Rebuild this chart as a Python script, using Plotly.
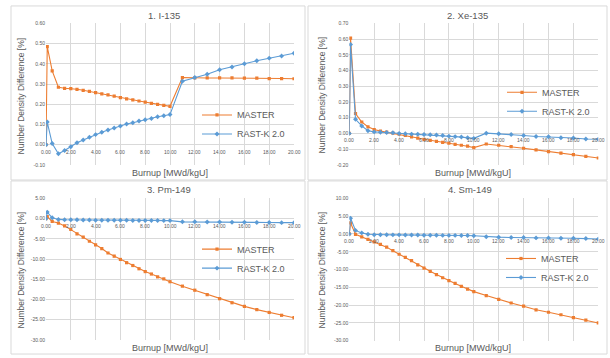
import plotly.graph_objects as go

# ---------------- data ----------------
burnup = [0.0, 0.1, 0.5, 1.0, 1.5, 2.0, 2.5, 3.0, 3.5, 4.0, 4.5, 5.0, 5.5, 6.0, 6.5, 7.0,
          7.5, 8.0, 8.5, 9.0, 9.5, 10.0, 11, 12, 13, 14, 15, 16, 17, 18, 19, 20]

series_names = ["MASTER", "RAST-K 2.0"]
panel_titles = ["1. I-135", "2. Xe-135", "3. Pm-149", "4. Sm-149"]
x_title = "Burnup [MWd/kgU]"
y_title = "Number Density Difference [%]"

x_tick_labels = ["0.00", "2.00", "4.00", "6.00", "8.00", "10.00", "12.00", "14.00",
                 "16.00", "18.00", "20.00"]

i135_master = [0.0, 0.485, 0.365, 0.284, 0.279, 0.277, 0.274, 0.269, 0.264, 0.258, 0.251,
               0.246, 0.240, 0.233, 0.227, 0.222, 0.216, 0.211, 0.204, 0.199, 0.194, 0.190,
               0.332, 0.330, 0.330, 0.330, 0.330, 0.329, 0.329, 0.327, 0.327, 0.326]
i135_rastk = [0.0, 0.112, 0.006, -0.045, -0.029, -0.010, 0.010, 0.023, 0.037, 0.050, 0.062,
              0.073, 0.083, 0.092, 0.102, 0.109, 0.117, 0.123, 0.130, 0.138, 0.143, 0.149,
              0.314, 0.332, 0.348, 0.371, 0.384, 0.400, 0.415, 0.428, 0.439, 0.452]
i135_yticks = ["-0.10", "0.00", "0.10", "0.20", "0.30", "0.40", "0.50", "0.60"]

xe135_master = [0.0, 0.606, 0.127, 0.073, 0.042, 0.025, 0.015, 0.008, 0.002, -0.004, -0.013,
                -0.021, -0.029, -0.037, -0.044, -0.050, -0.056, -0.062, -0.069, -0.075, -0.081,
                -0.090, -0.067, -0.075, -0.083, -0.094, -0.104, -0.115, -0.125, -0.135, -0.146,
                -0.156]
xe135_rastk = [0.0, 0.565, 0.090, 0.048, 0.017, 0.010, 0.008, 0.006, 0.004, 0.000, -0.002,
               -0.004, -0.005, -0.006, -0.008, -0.010, -0.013, -0.017, -0.020, -0.023, -0.027,
               -0.031, 0.002, -0.002, -0.006, -0.013, -0.019, -0.021, -0.027, -0.029, -0.035,
               -0.037]
xe135_yticks = ["-0.20", "-0.10", "0.00", "0.10", "0.20", "0.30", "0.40", "0.50", "0.60", "0.70"]

pm149_master = [0.0, 0.5, -0.7, -1.1, -1.8, -2.7, -3.8, -4.6, -5.6, -6.5, -7.4, -8.5, -9.3,
                -10.1, -10.9, -11.6, -12.4, -13.1, -13.7, -14.4, -14.9, -15.6, -16.7, -17.7,
                -18.8, -19.8, -20.8, -21.7, -22.5, -23.2, -23.9, -24.5]
pm149_rastk = [0.0, 1.6, 0.2, -0.2, -0.3, -0.3, -0.3, -0.35, -0.35, -0.4, -0.4, -0.4, -0.4,
               -0.4, -0.4, -0.45, -0.45, -0.45, -0.45, -0.45, -0.5, -0.5, -0.8, -0.8, -0.85,
               -0.85, -0.9, -0.9, -0.95, -0.95, -1.0, -1.0]
pm149_yticks = ["-30.00", "-25.00", "-20.00", "-15.00", "-10.00", "-5.00", "0.00", "5.00"]

sm149_master = [0.0, 3.1, -0.1, -0.8, -1.5, -2.2, -2.9, -3.7, -4.7, -5.7, -6.6, -7.5, -8.7,
                -9.6, -10.5, -11.4, -12.3, -13.1, -13.9, -14.7, -15.5, -16.2, -17.3, -18.4,
                -19.4, -20.3, -21.3, -22.0, -22.7, -23.5, -24.2, -25.0]
sm149_rastk = [0.0, 4.4, 1.0, 0.3, -0.1, -0.2, -0.2, -0.2, -0.25, -0.25, -0.3, -0.3, -0.3,
               -0.35, -0.35, -0.35, -0.4, -0.4, -0.4, -0.45, -0.45, -0.5, -0.8, -0.9, -1.0,
               -1.0, -1.1, -1.1, -1.2, -1.2, -1.3, -1.4]
sm149_yticks = ["-30.00", "-25.00", "-20.00", "-15.00", "-10.00", "-5.00", "0.00", "5.00", "10.00"]

# ---------------- styling / layout ----------------
W, H = 610, 358
ORANGE = "#ED7D31"
BLUE = "#5B9BD5"
GRID = "#d9d9d9"
TXT = "#595959"
FONT = "Liberation Sans"


def fx(p):
    return p / W


def fy(p):
    return 1 - p / H


panels = [
    dict(m=i135_master, r=i135_rastk, yt=i135_yticks,
         area=(46, 294, 20.7, 164.7), box=(11, 305, 3, 180),
         title=(164, 13), xt=(170, 173), ytl=(21, 95), leg=(197, 123.5)),
    dict(m=xe135_master, r=xe135_rastk, yt=xe135_yticks,
         area=(349.3, 598.3, 20.7, 164.7), box=(308, 607, 3, 180),
         title=(467, 13), xt=(473, 173), ytl=(322, 94), leg=(502, 100.5)),
    dict(m=pm149_master, r=pm149_rastk, yt=pm149_yticks,
         area=(46, 294, 198.7, 342.7), box=(11, 305, 181, 357),
         title=(169, 190), xt=(170, 351), ytl=(21, 272), leg=(197, 260)),
    dict(m=sm149_master, r=sm149_rastk, yt=sm149_yticks,
         area=(349.3, 598.3, 198.7, 343.5), box=(308, 607, 181, 357),
         title=(470, 190), xt=(473, 351), ytl=(322, 272), leg=(501, 269.5)),
]

fig = go.Figure()
annotations = []
shapes = []
layout = dict(
    width=W, height=H,
    margin=dict(l=0, r=0, t=0, b=0),
    paper_bgcolor="white", plot_bgcolor="white",
    font=dict(family=FONT, color=TXT),
)

for i, p in enumerate(panels):
    n = i + 1
    xa = "x" if n == 1 else f"x{n}"
    ya = "y" if n == 1 else f"y{n}"
    lg = "legend" if n == 1 else f"legend{n}"
    x0, x1, y0, y1 = p["area"]
    yt = p["yt"]
    yv = [float(t) for t in yt]
    xv = [float(t) for t in x_tick_labels]

    fig.add_trace(go.Scatter(
        x=burnup, y=p["m"], name=series_names[0], mode="lines+markers",
        line=dict(color=ORANGE, width=1.1),
        marker=dict(symbol="square", size=3.2, color=ORANGE),
        xaxis=xa, yaxis=ya, legend=lg))
    fig.add_trace(go.Scatter(
        x=burnup, y=p["r"], name=series_names[1], mode="lines+markers",
        line=dict(color=BLUE, width=1.1),
        marker=dict(symbol="diamond", size=3.8, color=BLUE),
        xaxis=xa, yaxis=ya, legend=lg))

    xkey = "xaxis" if n == 1 else f"xaxis{n}"
    ykey = "yaxis" if n == 1 else f"yaxis{n}"
    layout[xkey] = dict(
        domain=[fx(x0), fx(x1)], anchor=ya, range=[xv[0], xv[-1]],
        tickvals=xv, showticklabels=False, ticks="",
        showgrid=True, gridcolor=GRID, gridwidth=1, zeroline=False, showline=False)
    layout[ykey] = dict(
        domain=[fy(y1), fy(y0)], anchor=xa, range=[yv[0], yv[-1]],
        tickvals=yv, ticktext=yt, ticks="",
        tickfont=dict(size=5, color=TXT, family=FONT),
        showgrid=True, gridcolor=GRID, gridwidth=1, zeroline=False, showline=False)

    # x tick labels sit next to the horizontal axis at y = 0 (Excel style)
    for lab, v in zip(x_tick_labels, xv):
        annotations.append(dict(
            x=v, y=0, xref=xa, yref=ya, text=lab, showarrow=False,
            xanchor="center", yanchor="middle",
            yshift=-7, font=dict(size=5, color=TXT, family=FONT)))

    # titles
    tx, ty = p["title"]
    annotations.append(dict(x=fx(tx), y=fy(ty), xref="paper", yref="paper",
                            xanchor="center", yanchor="middle",
                            text=panel_titles[i], showarrow=False,
                            font=dict(size=9.5, color=TXT, family=FONT)))
    tx, ty = p["xt"]
    annotations.append(dict(x=fx(tx), y=fy(ty), xref="paper", yref="paper",
                            xanchor="center", yanchor="middle",
                            text=x_title, showarrow=False,
                            font=dict(size=9, color=TXT, family=FONT)))
    tx, ty = p["ytl"]
    annotations.append(dict(x=fx(tx), y=fy(ty), xref="paper", yref="paper",
                            xanchor="center", yanchor="middle",
                            text=y_title, showarrow=False, textangle=-90,
                            font=dict(size=8.5, color=TXT, family=FONT)))

    # chart-area border
    bx0, bx1, by0, by1 = p["box"]
    shapes.append(dict(type="rect", xref="paper", yref="paper",
                       x0=fx(bx0), x1=fx(bx1), y0=fy(by1), y1=fy(by0),
                       line=dict(color=GRID, width=1), fillcolor="rgba(0,0,0,0)",
                       layer="below"))

    lx, ly = p["leg"]
    layout[lg] = dict(x=fx(lx), y=fy(ly), xanchor="left", yanchor="middle",
                      bgcolor="rgba(0,0,0,0)", font=dict(size=9, color=TXT, family=FONT),
                      itemwidth=30, tracegroupgap=0)

layout["annotations"] = annotations
layout["shapes"] = shapes
fig.update_layout(**layout)

fig.write_html("out.html",
               config={"displayModeBar": False},
               post_script="document.body.style.margin='0px';document.body.style.padding='0px';")
